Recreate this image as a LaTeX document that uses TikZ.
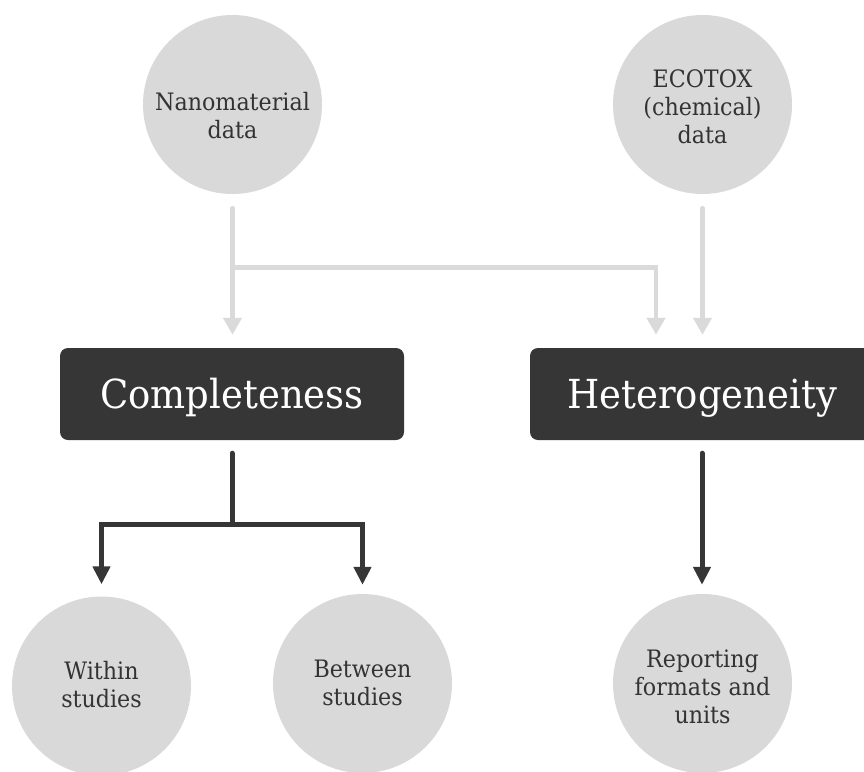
\documentclass[tikz,border=0pt]{standalone}
\usepackage{fontspec}
\setmainfont[FakeStretch=0.925]{DejaVu Serif}
\usetikzlibrary{arrows.meta}
\definecolor{bubblefill}{HTML}{D9D9D9}
\definecolor{lightarr}{HTML}{DADADA}
\definecolor{darkbox}{HTML}{363636}
\definecolor{inktext}{HTML}{333333}
\begin{document}
\begin{tikzpicture}[x=1pt,y=-1pt,
  bubble/.style={circle, fill=bubblefill, minimum size=179pt, inner sep=0pt},
  bubtext/.style={text=inktext, align=center, font=\fontsize{24}{28}\selectfont, inner sep=0pt},
  bigbox/.style={rectangle, rounded corners=8pt, fill=darkbox, minimum width=344pt, minimum height=92pt, inner sep=0pt, text=white, font=\fontsize{40}{48}\selectfont, text height=29pt, text depth=0pt},
  lightline/.style={draw=lightarr, line width=4.5pt, line cap=round},
  lightarrow/.style={lightline, -{Triangle[width=18pt,length=17pt]}},
  darkline/.style={draw=darkbox, line width=5pt, line cap=round},
  darkarrow/.style={darkline, -{Triangle[width=17pt,length=18pt]}}
]
\clip (0,0) rectangle (864,771);
% top bubbles
\node[bubble] (nano) at (232.5,104.5) {};
\node[bubtext] (nanotxt) at (232.5,118.4) {\strut Nanomaterial\\\strut data};
\node[bubble] (eco) at (702.5,104.5) {};
\node[bubtext] (ecotxt) at (702.5,109.4) {\strut ECOTOX\\\strut (chemical)\\\strut data};
% boxes
\node[bigbox] (comp) at (232,394) {Completeness};
\node[bigbox] (het) at (702,394) {Heterogeneity};
% bottom bubbles
\node[bubble] (within) at (101.5,686) {};
\node[bubtext] (withintxt) at (101.5,688) {\strut Within\\\strut studies};
\node[bubble] (between) at (362.5,683.5) {};
\node[bubtext] (betweentxt) at (362.5,685.4) {\strut Between\\\strut studies};
\node[bubble] (rep) at (702.5,683.5) {};
\node[bubtext] (reptxt) at (702.5,689.4) {\strut Reporting\\\strut formats and\\\strut units};
% junctions
\coordinate (j1) at (232.5,267.5);
\coordinate (j2) at (232,524);
% light connectors
\draw[lightarrow, shorten <=14pt, shorten >=13pt] (nano.south) -- (nano.south |- comp.north);
\draw[lightarrow, shorten >=13pt] (j1) -| ([xshift=-46pt]het.north);
\draw[lightarrow, shorten <=14pt, shorten >=13pt] (eco.south) -- (eco.south |- het.north);
% dark connectors
\draw[darkline, shorten <=13pt] (comp.south) -- (j2);
\draw[darkarrow, shorten >=12pt] (j2) -| (within.north);
\draw[darkarrow, shorten >=9pt] (j2) -| (between.north);
\draw[darkarrow, shorten <=13pt, shorten >=9pt] (het.south) -- (het.south |- rep.north);
\end{tikzpicture}
\end{document}
